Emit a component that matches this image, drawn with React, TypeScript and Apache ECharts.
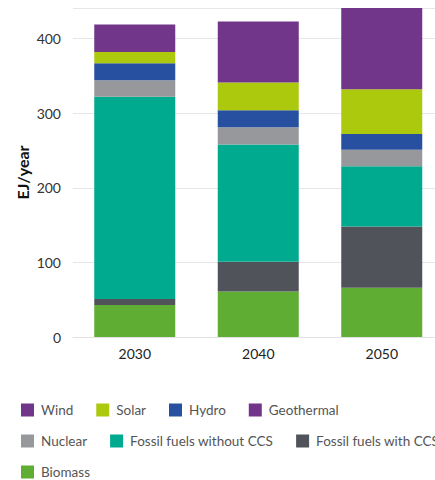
import React, { useEffect, useRef } from "react";
import * as echarts from "echarts";

const years = ["2030", "2040", "2050"];
const biomass = [43, 61, 66];
const fossilCCS = [8, 40, 82];
const fossilNoCCS = [271, 157, 81];
const nuclear = [22, 23, 22];
const hydro = [23, 23, 21];
const solar = [15, 37, 60];
const wind = [37, 82, 109];
const geothermal = [0, 0, 0];
const yTicks = [0, 100, 200, 300, 400];

const FONT = "Lato, 'Noto Sans', sans-serif";

export default function App() {
  const ref = useRef<HTMLDivElement>(null);
  useEffect(() => {
    if (!ref.current) return;
    const chart = echarts.init(ref.current, undefined, { renderer: "svg" });
    const mk = (name: string, data: number[], color: string) => ({
      name,
      type: "bar",
      stack: "total",
      data,
      barWidth: 81,
      itemStyle: { color },
      emphasis: { disabled: true },
    });
    const legendBase = {
      left: 21,
      width: 800,
      padding: 0,
      itemWidth: 13,
      itemHeight: 13,
      itemGap: 23,
      icon: "rect",
      textStyle: { color: "#555", fontSize: 13.5, fontFamily: FONT, padding: [0, 0, 0, 2] },
      selectedMode: false,
    };
    chart.setOption({
      animation: false,
      textStyle: { fontFamily: FONT },
      grid: { left: 73, right: 6.5, top: 8, bottom: 143 },
      legend: [
        { ...legendBase, top: 403, data: ["Wind", "Solar", "Hydro", "Geothermal"] },
        { ...legendBase, top: 434, data: ["Nuclear", "Fossil fuels without CCS", "Fossil fuels with CCS"] },
        { ...legendBase, top: 465, data: ["Biomass"] },
      ],
      xAxis: {
        type: "category",
        data: years,
        axisLine: { show: true, lineStyle: { color: "#e3e3e3" } },
        axisTick: { show: false },
        axisLabel: { color: "#222", fontSize: 14, fontFamily: FONT, margin: 9 },
      },
      yAxis: {
        type: "value",
        min: 0,
        max: (v: { max: number }) => v.max,
        interval: 100,
        name: "EJ/year",
        nameLocation: "middle",
        nameGap: 43,
        nameMoveOverlap: false,
        nameTextStyle: { fontWeight: "bold", fontSize: 16, color: "#111", fontFamily: FONT },
        axisLabel: {
          color: "#333",
          fontSize: 14,
          fontFamily: FONT,
          margin: 12,
          formatter: (v: number) => (yTicks.includes(v) ? String(v) : ""),
        },
        splitLine: { lineStyle: { color: "#e6e6e6" } },
      },
      series: [
        mk("Biomass", biomass, "#5fad32"),
        mk("Fossil fuels with CCS", fossilCCS, "#50535a"),
        mk("Fossil fuels without CCS", fossilNoCCS, "#00aa8f"),
        mk("Nuclear", nuclear, "#97989b"),
        mk("Hydro", hydro, "#2850a0"),
        mk("Solar", solar, "#acc90e"),
        mk("Wind", wind, "#71368a"),
        mk("Geothermal", geothermal, "#71368a"),
      ],
    });
    return () => chart.dispose();
  }, []);
  return (
    <div style={{ position: "fixed", left: 0, top: 0, width: 435, height: 480, overflow: "hidden", background: "#fff" }}>
      <div ref={ref} style={{ width: 450, height: 480 }} />
    </div>
  );
}
